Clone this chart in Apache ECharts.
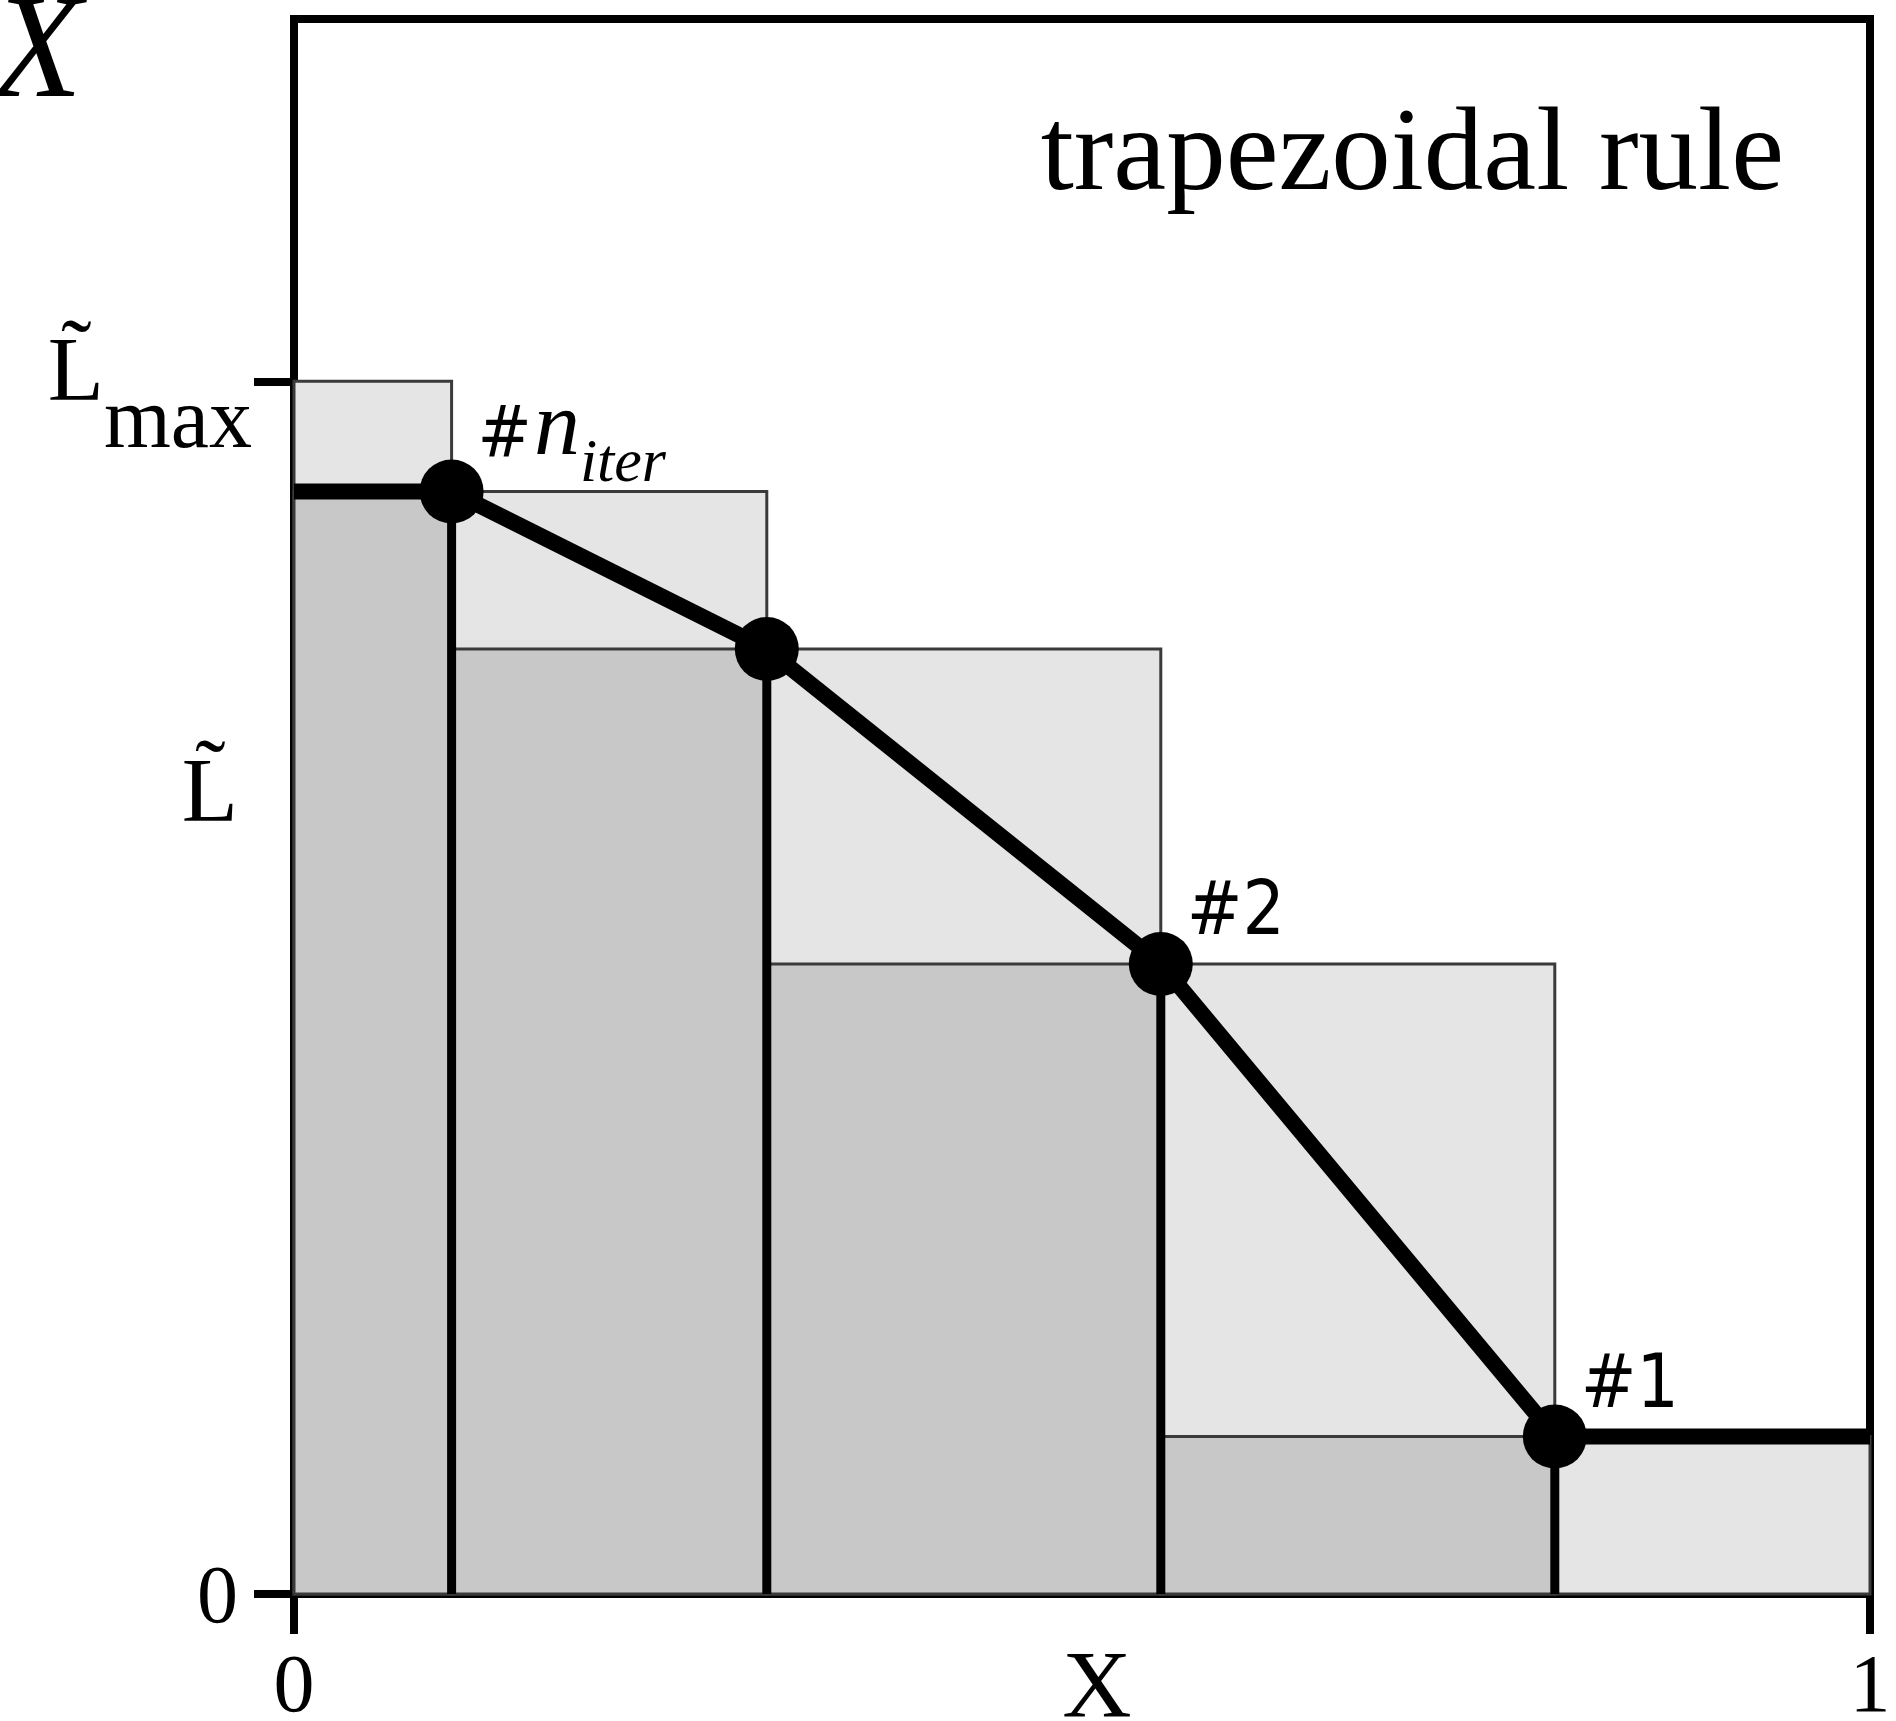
<!DOCTYPE html>
<html>
<head>
<meta charset="utf-8">
<script src="https://cdn.jsdelivr.net/npm/echarts@6/dist/echarts.min.js"></script>
<style>
html, body { margin: 0; padding: 0; background: #fff; }
#chart { width: 1896px; height: 1721px; }
</style>
</head>
<body>
<div id="chart"></div>
<script>
// 区间边界与上/下矩形高度
var edges = [0, 0.1, 0.3, 0.55, 0.8, 1];
var upperVals = [0.77, 0.7, 0.6, 0.4, 0.1];
var lowerVals = [0.7, 0.6, 0.4, 0.1];
// 迭代节点
var nodeX = [0.1, 0.3, 0.55, 0.8];
var nodeY = [0.7, 0.6, 0.4, 0.1];
var nodeNames = ['#n_iter', '', '#2', '#1'];
// 折线（两端水平延伸）
var lineX = [0, 0.1, 0.3, 0.55, 0.8, 1];
var lineY = [0.7, 0.7, 0.6, 0.4, 0.1, 0.1];
// 坐标轴刻度
var lMax = 0.77;
var xTickVals = [0, 1];
var yTickVals = [0, lMax];
var yLabelVals = [0, 0.5, lMax];

var serif = 'Liberation Serif';
var sans = "'Liberation Sans Narrow', 'DejaVu Sans Condensed', 'DejaVu Sans'";

var chart = echarts.init(document.getElementById('chart'));

//矩形数据
function rectData(vals) {
    var out = [];
    for (var i = 0; i < vals.length; i++) {
        out.push([edges[i], edges[i + 1], vals[i]]);
    }
    return out;
}

function rectItem(fill) {
    return function(params, api) {
        var p0 = api.coord([api.value(0), api.value(2)]);
        var p1 = api.coord([api.value(1), 0]);
        return {
            type: 'rect',
            shape: { x: p0[0], y: p0[1], width: p1[0] - p0[0], height: p1[1] - p0[1] },
            style: { fill: fill, stroke: '#3a3a3a', lineWidth: 3 }
        };
    };
}

var dropData = nodeX.map(function(x, i) { return [x, nodeY[i]]; });
var lineData = lineX.map(function(x, i) { return [x, lineY[i]]; });
var nodeData = nodeX.map(function(x, i) {
    var item = { name: nodeNames[i], value: [x, nodeY[i]] };
    if (nodeNames[i] === '#n_iter') {
        item.label = { position: [58, 36] };
    }
    return item;
});

var option = {
    backgroundColor: '#fff',
    animation: false,
    title: [{
        text: 'X',
        left: -8,
        top: -17,
        padding: 0,
        textStyle: { fontFamily: serif, fontStyle: 'italic', fontWeight: 'normal', fontSize: 148, color: '#000' }
    }, {
        text: 'trapezoidal rule',
        right: 112,
        top: 98,
        padding: 0,
        textStyle: { fontFamily: serif, fontWeight: 'normal', fontSize: 119, color: '#000' }
    }],
    grid: {
        left: 294, right: 26, top: 19, bottom: 127,
        outerBoundsMode: 'none',
        containLabel: false,
        show: true, borderColor: '#000', borderWidth: 8, backgroundColor: 'transparent'
    },
    xAxis: {
        type: 'value',
        min: 0, max: 1, interval: 1,
        name: 'X',
        nameLocation: 'middle',
        nameGap: 50,
        nameMoveOverlap: false,
        nameTextStyle: { fontFamily: serif, fontSize: 96, color: '#000', padding: [0, 0, 0, 30] },
        axisLine: { lineStyle: { color: '#000', width: 8 } },
        axisTick: { length: 40, lineStyle: { color: '#000', width: 8 } },
        axisLabel: {
            margin: 54, fontFamily: serif, fontSize: 82, color: '#000',
            customValues: xTickVals
        },
        splitLine: { show: false }
    },
    yAxis: {
        type: 'value',
        min: 0, max: 1,
        axisLine: { show: true, lineStyle: { color: '#000', width: 8 } },
        axisTick: { show: true, length: 40, lineStyle: { color: '#000', width: 8 }, customValues: yTickVals },
        axisLabel: {
            margin: 42,
            customValues: yLabelVals,
            formatter: function(v) {
                if (v === 0) return '{num|0}';
                if (v === lMax) return '{L|L\u0303}{sub|max}';
                return '{L2|L\u0303}';
            },
            rich: {
                num: { fontFamily: serif, fontSize: 82, color: '#000', padding: [12, 14, 0, 0] },
                L: { fontFamily: serif, fontSize: 92, color: '#000', padding: [36, 0, 47, 0] },
                sub: { fontFamily: serif, fontSize: 86, color: '#000', padding: [86, 0, 0, 0] },
                L2: { fontFamily: serif, fontSize: 92, color: '#000', padding: [0, 14, 20, 0] }
            }
        },
        splitLine: { show: false }
    },
    series: [{
        type: 'custom',
        name: 'upper',
        renderItem: rectItem('#e5e5e5'),
        encode: { x: [0, 1], y: 2 },
        data: rectData(upperVals),
        z: 1
    }, {
        type: 'custom',
        name: 'lower',
        renderItem: rectItem('#c8c8c8'),
        encode: { x: [0, 1], y: 2 },
        data: rectData(lowerVals),
        z: 2
    }, {
        type: 'custom',
        name: 'drops',
        renderItem: function(params, api) {
            var p0 = api.coord([api.value(0), api.value(1)]);
            var p1 = api.coord([api.value(0), 0]);
            return {
                type: 'line',
                shape: { x1: p0[0], y1: p0[1], x2: p1[0], y2: p1[1] },
                style: { stroke: '#000', lineWidth: 9 }
            };
        },
        encode: { x: 0, y: 1 },
        data: dropData,
        z: 3
    }, {
        type: 'line',
        data: lineData,
        showSymbol: false,
        lineStyle: { color: '#000', width: 16 },
        z: 4
    }, {
        type: 'scatter',
        data: nodeData,
        symbolSize: 64,
        itemStyle: { color: '#000', opacity: 1 },
        z: 5,
        label: {
            show: true,
            position: [58, 20],
            align: 'left',
            verticalAlign: 'bottom',
            formatter: function(p) {
                if (p.name === '#n_iter') return '{h|#}{n|n}{s|iter}';
                return '{h2|' + p.name + '}';
            },
            rich: {
                h: { fontFamily: sans, fontSize: 72, color: '#000', padding: [16, 2, 21, 0] },
                n: { fontFamily: serif, fontStyle: 'italic', fontSize: 92, color: '#000', padding: [0, 0, 20, 0] },
                s: { fontFamily: serif, fontStyle: 'italic', fontSize: 62, color: '#000', padding: [50, 0, 0, 0] },
                h2: { fontFamily: sans, fontSize: 74, color: '#000' }
            }
        }
    }]
};

chart.setOption(option);
</script>
</body>
</html>
